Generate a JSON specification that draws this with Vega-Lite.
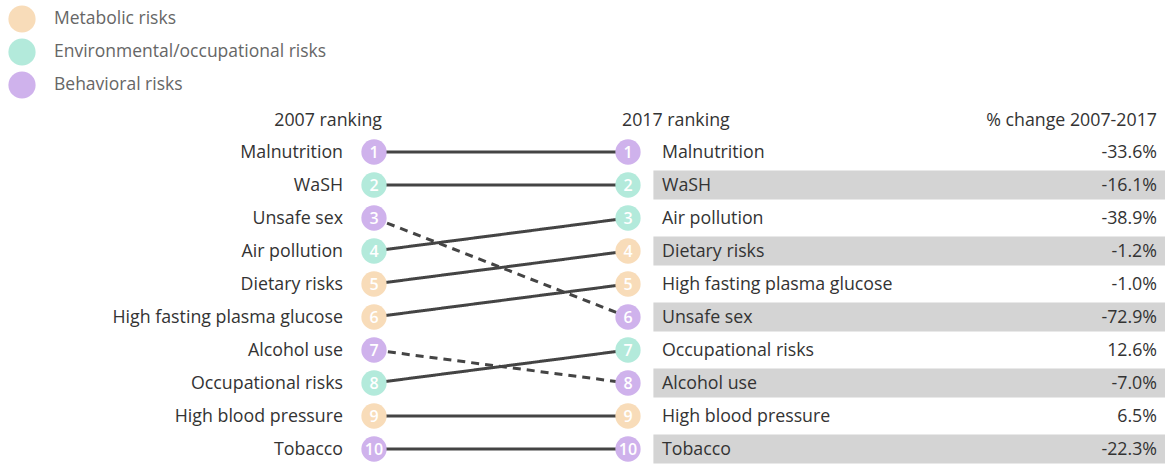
{
  "$schema": "https://vega.github.io/schema/vega-lite/v6.json",
  "width": 1165,
  "height": 464,
  "autosize": {"type": "fit", "contains": "padding"},
  "padding": 0,
  "background": "white",
  "config": {
    "view": {"stroke": null},
    "font": "Open Sans",
    "text": {"font": "Open Sans", "fontSize": 17.8, "fill": "#333", "dy": 1},
    "locale": {"number": {"decimal": ".", "thousands": ",", "grouping": [3], "currency": ["$", ""], "minus": "-", "percent": "%"}}
  },
  "data": {
    "values": [
      {"risk": "Malnutrition", "category": "Behavioral risks", "r2007": 1, "r2017": 1, "change": -0.336},
      {"risk": "WaSH", "category": "Environmental/occupational risks", "r2007": 2, "r2017": 2, "change": -0.161},
      {"risk": "Unsafe sex", "category": "Behavioral risks", "r2007": 3, "r2017": 6, "change": -0.729},
      {"risk": "Air pollution", "category": "Environmental/occupational risks", "r2007": 4, "r2017": 3, "change": -0.389},
      {"risk": "Dietary risks", "category": "Metabolic risks", "r2007": 5, "r2017": 4, "change": -0.012},
      {"risk": "High fasting plasma glucose", "category": "Metabolic risks", "r2007": 6, "r2017": 5, "change": -0.010},
      {"risk": "Alcohol use", "category": "Behavioral risks", "r2007": 7, "r2017": 8, "change": -0.070},
      {"risk": "Occupational risks", "category": "Environmental/occupational risks", "r2007": 8, "r2017": 7, "change": 0.126},
      {"risk": "High blood pressure", "category": "Metabolic risks", "r2007": 9, "r2017": 9, "change": 0.065},
      {"risk": "Tobacco", "category": "Behavioral risks", "r2007": 10, "r2017": 10, "change": -0.223}
    ]
  },
  "layer": [
    {
      "transform": [{"filter": "datum.r2017 % 2 == 0"}],
      "mark": {"type": "bar", "orient": "horizontal", "size": 29, "color": "#d4d4d4"},
      "encoding": {
        "x": {"datum": 2018.0, "type": "quantitative", "scale": {"domain": [2007, 2017], "range": [374, 628], "zero": false, "nice": false, "padding": 0}, "axis": null},
        "x2": {"datum": 2038.2},
        "y": {"field": "r2017", "type": "quantitative", "scale": {"domain": [1, 10], "range": [152, 449], "zero": false, "nice": false, "padding": 0}, "axis": null}
      }
    },
    {
      "mark": {"type": "rule", "color": "#444", "strokeWidth": 3},
      "encoding": {
        "x": {"datum": 2007, "type": "quantitative"},
        "x2": {"datum": 2017},
        "y": {"field": "r2007", "type": "quantitative"},
        "y2": {"field": "r2017"},
        "strokeDash": {"condition": {"test": "datum.r2017 > datum.r2007", "value": [8, 6]}, "value": [1, 0]}
      }
    },
    {
      "mark": {"type": "circle", "size": 640, "opacity": 1},
      "encoding": {
        "x": {"datum": 2007, "type": "quantitative"},
        "y": {"field": "r2007", "type": "quantitative"},
        "color": {"field": "category", "type": "nominal",
          "scale": {"domain": ["Metabolic risks", "Environmental/occupational risks", "Behavioral risks"], "range": ["#f8dcb9", "#b3eadb", "#cfb2ec"]},
          "legend": {"orient": "none", "legendX": 8, "legendY": 5, "title": null, "symbolType": "circle", "symbolSize": 740, "symbolOpacity": 1, "symbolStrokeWidth": 0, "labelFont": "Open Sans", "labelFontSize": 17.5, "labelColor": "#666", "labelOffset": 18, "labelLimit": 0, "rowPadding": 5, "padding": 0}
        }
      }
    },
    {
      "mark": {"type": "circle", "size": 640, "opacity": 1},
      "encoding": {
        "x": {"datum": 2017, "type": "quantitative"},
        "y": {"field": "r2017", "type": "quantitative"},
        "color": {"field": "category", "type": "nominal"}
      }
    },
    {
      "mark": {"type": "text", "fill": "white", "fontSize": 16, "fontWeight": 600, "align": "center", "baseline": "middle"},
      "encoding": {
        "x": {"datum": 2007, "type": "quantitative"},
        "y": {"field": "r2007", "type": "quantitative"},
        "text": {"field": "r2007"}
      }
    },
    {
      "mark": {"type": "text", "fill": "white", "fontSize": 16, "fontWeight": 600, "align": "center", "baseline": "middle"},
      "encoding": {
        "x": {"datum": 2017, "type": "quantitative"},
        "y": {"field": "r2017", "type": "quantitative"},
        "text": {"field": "r2017"}
      }
    },
    {
      "mark": {"type": "text", "align": "right", "baseline": "middle", "dx": -31},
      "encoding": {
        "x": {"datum": 2007, "type": "quantitative"},
        "y": {"field": "r2007", "type": "quantitative"},
        "text": {"field": "risk"}
      }
    },
    {
      "mark": {"type": "text", "align": "left", "baseline": "middle", "dx": 34},
      "encoding": {
        "x": {"datum": 2017, "type": "quantitative"},
        "y": {"field": "r2017", "type": "quantitative"},
        "text": {"field": "risk"}
      }
    },
    {
      "mark": {"type": "text", "align": "right", "baseline": "middle", "dx": 529},
      "encoding": {
        "x": {"datum": 2017, "type": "quantitative"},
        "y": {"field": "r2017", "type": "quantitative"},
        "text": {"field": "change", "format": ".1%"}
      }
    },
    {
      "data": {"values": [{"header": "2007 ranking"}]},
      "mark": {"type": "text", "align": "right", "baseline": "middle", "dx": 8, "dy": 2},
      "encoding": {
        "x": {"datum": 2007, "type": "quantitative"},
        "y": {"datum": 0, "type": "quantitative"},
        "text": {"field": "header"}
      }
    },
    {
      "data": {"values": [{"header": "2017 ranking"}]},
      "mark": {"type": "text", "align": "left", "baseline": "middle", "dx": -6, "dy": 2},
      "encoding": {
        "x": {"datum": 2017, "type": "quantitative"},
        "y": {"datum": 0, "type": "quantitative"},
        "text": {"field": "header"}
      }
    },
    {
      "data": {"values": [{"header": "% change 2007-2017"}]},
      "mark": {"type": "text", "align": "right", "baseline": "middle", "dx": 529, "dy": 2},
      "encoding": {
        "x": {"datum": 2017, "type": "quantitative"},
        "y": {"datum": 0, "type": "quantitative"},
        "text": {"field": "header"}
      }
    }
  ]
}
